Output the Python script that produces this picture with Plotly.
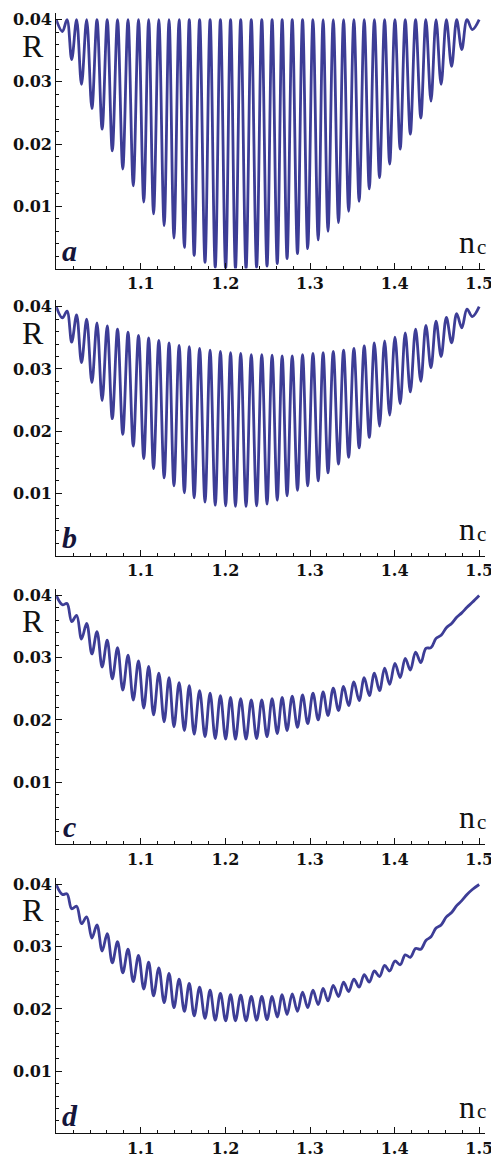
import plotly.graph_objects as go

# ---- data ----
# positions (n_c) of the minima and maxima of the oscillation (same in all panels)
nc_troughs = [1.0073, 1.0183, 1.0299, 1.0422, 1.0543, 1.0663, 1.0787, 1.0911, 1.1035, 1.1151,
              1.1276, 1.1392, 1.1515, 1.1631, 1.1759, 1.1880, 1.2003, 1.2119, 1.2244, 1.2369,
              1.2492, 1.2613, 1.2729, 1.2852, 1.2973, 1.3097, 1.3213, 1.3337, 1.3457, 1.3581,
              1.3701, 1.3822, 1.3942, 1.4066, 1.4186, 1.4310, 1.4430, 1.4550, 1.4674, 1.4794,
              1.4919]
nc_peaks = [1.0128, 1.0241, 1.0360, 1.0482, 1.0603, 1.0725, 1.0849, 1.0973, 1.1093, 1.1213,
            1.1334, 1.1453, 1.1573, 1.1695, 1.1819, 1.1941, 1.2061, 1.2181, 1.2306, 1.2430,
            1.2552, 1.2671, 1.2790, 1.2912, 1.3035, 1.3155, 1.3275, 1.3397, 1.3519, 1.3641,
            1.3761, 1.3882, 1.4004, 1.4126, 1.4248, 1.4370, 1.4490, 1.4612, 1.4734, 1.4856]
nc_start = 1.0
nc_end = 1.5

# panel a
R_start_a = 0.0400
R_end_a = 0.0400
R_troughs_a = [0.0381, 0.0336, 0.0296, 0.0257, 0.0224, 0.0189, 0.0160, 0.0133, 0.0107, 0.0088,
               0.0069, 0.0049, 0.0034, 0.0021, 0.0010, 0.0002, 0.0000, 0.0000, 0.0000, 0.0002,
               0.0004, 0.0008, 0.0016, 0.0024, 0.0032, 0.0046, 0.0060, 0.0074, 0.0092, 0.0108,
               0.0128, 0.0146, 0.0168, 0.0192, 0.0216, 0.0242, 0.0269, 0.0296, 0.0325, 0.0352,
               0.0384]
R_peaks_a = [0.0400, 0.0400, 0.0400, 0.0400, 0.0400, 0.0400, 0.0400, 0.0400, 0.0400, 0.0400,
             0.0400, 0.0400, 0.0400, 0.0400, 0.0400, 0.0400, 0.0400, 0.0400, 0.0400, 0.0400,
             0.0400, 0.0400, 0.0400, 0.0400, 0.0400, 0.0400, 0.0400, 0.0400, 0.0400, 0.0400,
             0.0400, 0.0400, 0.0400, 0.0400, 0.0400, 0.0400, 0.0400, 0.0400, 0.0400, 0.0400]

# panel b
R_start_b = 0.0400
R_end_b = 0.0400
R_troughs_b = [0.0382, 0.0343, 0.0310, 0.0278, 0.0249, 0.0220, 0.0195, 0.0176, 0.0156, 0.0140,
               0.0125, 0.0112, 0.0101, 0.0093, 0.0086, 0.0081, 0.0080, 0.0079, 0.0079, 0.0080,
               0.0083, 0.0089, 0.0096, 0.0105, 0.0112, 0.0120, 0.0133, 0.0147, 0.0158, 0.0173,
               0.0190, 0.0208, 0.0226, 0.0244, 0.0263, 0.0280, 0.0302, 0.0320, 0.0342, 0.0366,
               0.0384]
R_peaks_b = [0.0393, 0.0387, 0.0380, 0.0374, 0.0369, 0.0364, 0.0359, 0.0354, 0.0350, 0.0346,
             0.0342, 0.0338, 0.0336, 0.0333, 0.0330, 0.0328, 0.0326, 0.0325, 0.0323, 0.0323,
             0.0322, 0.0321, 0.0321, 0.0323, 0.0325, 0.0326, 0.0328, 0.0330, 0.0333, 0.0337,
             0.0342, 0.0345, 0.0351, 0.0358, 0.0364, 0.0370, 0.0377, 0.0383, 0.0389, 0.0396]

# panel c
R_start_c = 0.0400
R_end_c = 0.0400
R_troughs_c = [0.0385, 0.0358, 0.0330, 0.0306, 0.0285, 0.0266, 0.0248, 0.0232, 0.0219, 0.0208,
               0.0197, 0.0189, 0.0183, 0.0177, 0.0173, 0.0170, 0.0169, 0.0169, 0.0169, 0.0170,
               0.0173, 0.0178, 0.0183, 0.0188, 0.0194, 0.0200, 0.0207, 0.0215, 0.0223, 0.0231,
               0.0239, 0.0247, 0.0257, 0.0268, 0.0280, 0.0292, 0.0316, 0.0336, 0.0355, 0.0372,
               0.0389]
R_peaks_c = [0.0387, 0.0368, 0.0355, 0.0342, 0.0328, 0.0316, 0.0304, 0.0295, 0.0286, 0.0275,
             0.0268, 0.0260, 0.0255, 0.0247, 0.0243, 0.0239, 0.0236, 0.0234, 0.0232, 0.0232,
             0.0234, 0.0236, 0.0238, 0.0240, 0.0243, 0.0245, 0.0251, 0.0254, 0.0261, 0.0268,
             0.0275, 0.0283, 0.0291, 0.0299, 0.0309, 0.0315, 0.0331, 0.0348, 0.0365, 0.0381]

# panel d
R_start_d = 0.0400
R_end_d = 0.0400
R_troughs_d = [0.0384, 0.0361, 0.0337, 0.0314, 0.0293, 0.0274, 0.0258, 0.0244, 0.0232, 0.0221,
               0.0210, 0.0202, 0.0196, 0.0189, 0.0185, 0.0182, 0.0181, 0.0181, 0.0181, 0.0182,
               0.0183, 0.0187, 0.0191, 0.0196, 0.0202, 0.0207, 0.0213, 0.0220, 0.0228, 0.0235,
               0.0243, 0.0252, 0.0261, 0.0271, 0.0283, 0.0296, 0.0316, 0.0335, 0.0355, 0.0374,
               0.0392]
R_peaks_d = [0.0385, 0.0365, 0.0348, 0.0335, 0.0321, 0.0308, 0.0296, 0.0286, 0.0275, 0.0266,
             0.0257, 0.0248, 0.0241, 0.0235, 0.0230, 0.0225, 0.0223, 0.0222, 0.0220, 0.0220,
             0.0220, 0.0223, 0.0224, 0.0227, 0.0230, 0.0233, 0.0238, 0.0243, 0.0248, 0.0255,
             0.0261, 0.0270, 0.0277, 0.0287, 0.0297, 0.0310, 0.0330, 0.0348, 0.0366, 0.0384]

panel_labels = ["a", "b", "c", "d"]
x_tick_vals = [1.1, 1.2, 1.3, 1.4, 1.5]
x_tick_text = ["1.1", "1.2", "1.3", "1.4", "1.5"]
y_tick_vals = [0.01, 0.02, 0.03, 0.04]
y_tick_text = ["0.01", "0.02", "0.03", "0.04"]

panels = [
    (R_start_a, R_troughs_a, R_peaks_a, R_end_a),
    (R_start_b, R_troughs_b, R_peaks_b, R_end_b),
    (R_start_c, R_troughs_c, R_peaks_c, R_end_c),
    (R_start_d, R_troughs_d, R_peaks_d, R_end_d),
]

# ---- layout geometry (page pixels; the page body adds an 8 px offset) ----
OFF = 8
W, H = 499 - OFF, 1158 - OFF
x_left_px, x_right_px = 57, 493
axis_bottom_px = [266.7, 555.0, 845.0, 1135.3]
px_per_unit = 6250.0
y_top_val = 0.041
x_range = [1.0, 1.0 + (x_right_px - x_left_px) / 860.0]


def fx(px):
    return (px - OFF) / W


def fy(py):
    return 1 - (py - OFF) / H


LINE = "#3d3d96"
AXC = "#111111"

fig = go.Figure()
layout = dict(
    width=W, height=H,
    margin=dict(l=0, r=0, t=0, b=0, pad=0),
    paper_bgcolor="white", plot_bgcolor="white",
    showlegend=False,
)


def build_xy(r_start, troughs, peaks, r_end):
    xs, ys = [nc_start], [r_start]
    for i, (tx, ty) in enumerate(zip(nc_troughs, troughs)):
        xs.append(tx)
        ys.append(ty)
        if i < len(peaks):
            xs.append(nc_peaks[i])
            ys.append(peaks[i])
    xs.append(nc_end)
    ys.append(r_end)
    return xs, ys


tick_font = dict(family="DejaVu Serif", size=16, color="#111111", weight="bold")
annotations = []
for k, (rs, tr, pk, re_) in enumerate(panels):
    xs, ys = build_xy(rs, tr, pk, re_)
    suffix = "" if k == 0 else str(k + 1)
    fig.add_trace(go.Scatter(
        x=xs, y=ys, mode="lines",
        line=dict(color=LINE, width=2.8, shape="spline", smoothing=1.0),
        xaxis="x" + suffix, yaxis="y" + suffix, hoverinfo="skip",
    ))
    bot = axis_bottom_px[k]
    top = bot - y_top_val * px_per_unit
    ydom = [fy(bot), fy(top)]
    xdom = [fx(x_left_px), fx(x_right_px)]
    layout["xaxis" + suffix] = dict(
        domain=xdom, range=x_range, anchor="y" + suffix,
        showgrid=False, zeroline=False, showline=True, linecolor=AXC, linewidth=1,
        ticks="inside", ticklen=6, tickwidth=1, tickcolor=AXC,
        tickvals=x_tick_vals, ticktext=x_tick_text, tickfont=tick_font,
        ticklabeloverflow="allow",
        minor=dict(ticks="inside", ticklen=3, tickwidth=1, tickcolor=AXC,
                   tick0=1.0, dtick=0.02, showgrid=False),
    )
    layout["yaxis" + suffix] = dict(
        domain=ydom, range=[0, y_top_val], anchor="x" + suffix,
        showgrid=False, zeroline=False, showline=True, linecolor=AXC, linewidth=1,
        ticks="inside", ticklen=6, tickwidth=1, tickcolor=AXC,
        tickvals=y_tick_vals, ticktext=y_tick_text, tickfont=tick_font,
        ticklabeloverflow="allow",
        minor=dict(ticks="inside", ticklen=3, tickwidth=1, tickcolor=AXC,
                   tick0=0, dtick=0.002, showgrid=False),
    )
    y04 = bot - 0.04 * px_per_unit
    # "R"
    annotations.append(dict(
        text="R", x=fx(33), y=fy(y04 + 26), xref="paper", yref="paper",
        xanchor="center", yanchor="middle", showarrow=False,
        font=dict(family="Liberation Serif", size=32, color="#111111"),
    ))
    # "n" and its subscript "c"
    annotations.append(dict(
        text="n", x=fx(475), y=fy(bot - 27), xref="paper", yref="paper",
        xanchor="center", yanchor="middle", showarrow=False,
        font=dict(family="Liberation Serif", size=32, color="#111111"),
    ))
    annotations.append(dict(
        text="c", x=fx(489), y=fy(bot - 22), xref="paper", yref="paper",
        xanchor="center", yanchor="middle", showarrow=False,
        font=dict(family="Liberation Serif", size=21, color="#111111"),
    ))
    # panel letter
    annotations.append(dict(
        text=panel_labels[k], x=fx(71), y=fy(bot - 18),
        xref="paper", yref="paper", xanchor="center", yanchor="middle", showarrow=False,
        font=dict(family="Liberation Serif", size=30, color="#15153a",
                  weight="bold", style="italic"),
    ))

layout["annotations"] = annotations
fig.update_layout(**layout)
fig.write_html("out.html")
